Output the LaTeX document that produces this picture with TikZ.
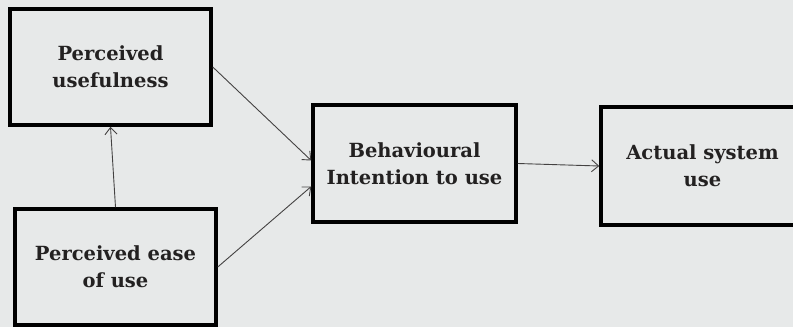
\documentclass[tikz,border=0pt]{standalone}
\usepackage{fontspec}
\setmainfont{DejaVu Serif}
\usepackage{tikz}
\usetikzlibrary{arrows.meta, positioning}
\definecolor{paper}{RGB}{231,233,233}
\definecolor{ink}{RGB}{35,33,33}
\tikzset{
  construct/.style = {align=center, inner sep=0pt, text centered,
    font=\bfseries\fontsize{19.5}{27}\selectfont, text=ink},
  box/.style = {construct, rectangle, draw=black, fill=paper,
    minimum width=201pt, minimum height=116pt, line width=3.5pt}
}

\begin{document}
\begin{tikzpicture}[x=1pt, y=1pt, ->, >={Straight Barb[length=7pt,width=12pt]},
  link/.style = {draw=ink!85, line width=0.9pt}]
\useasboundingbox (0,0) rectangle (793,327);
\fill[paper] (0,0) rectangle (793,327);
\clip (0,0) rectangle (793,327);
\node [box] (useful) at (110.5,260) {Perceived\\usefulness};
\node [box] (ease) at (115.5,60) {Perceived ease\\of use};
\node [box, minimum width=203pt, minimum height=117pt] (intent) at (414.5,163.5) {Behavioural\\Intention to use};
\node [box, minimum width=203pt, minimum height=118pt] (actual) at (702.5,161) {Actual system\\use};
% links
\draw [link] (ease.north) -- (useful.south);
\draw [link] (useful.east) -- ([yshift=3pt]intent.west);
\draw [link] (ease.east) -- ([yshift=-23pt]intent.west);
\draw [link] (intent.east) -- (actual.west);
\end{tikzpicture}
\end{document}
